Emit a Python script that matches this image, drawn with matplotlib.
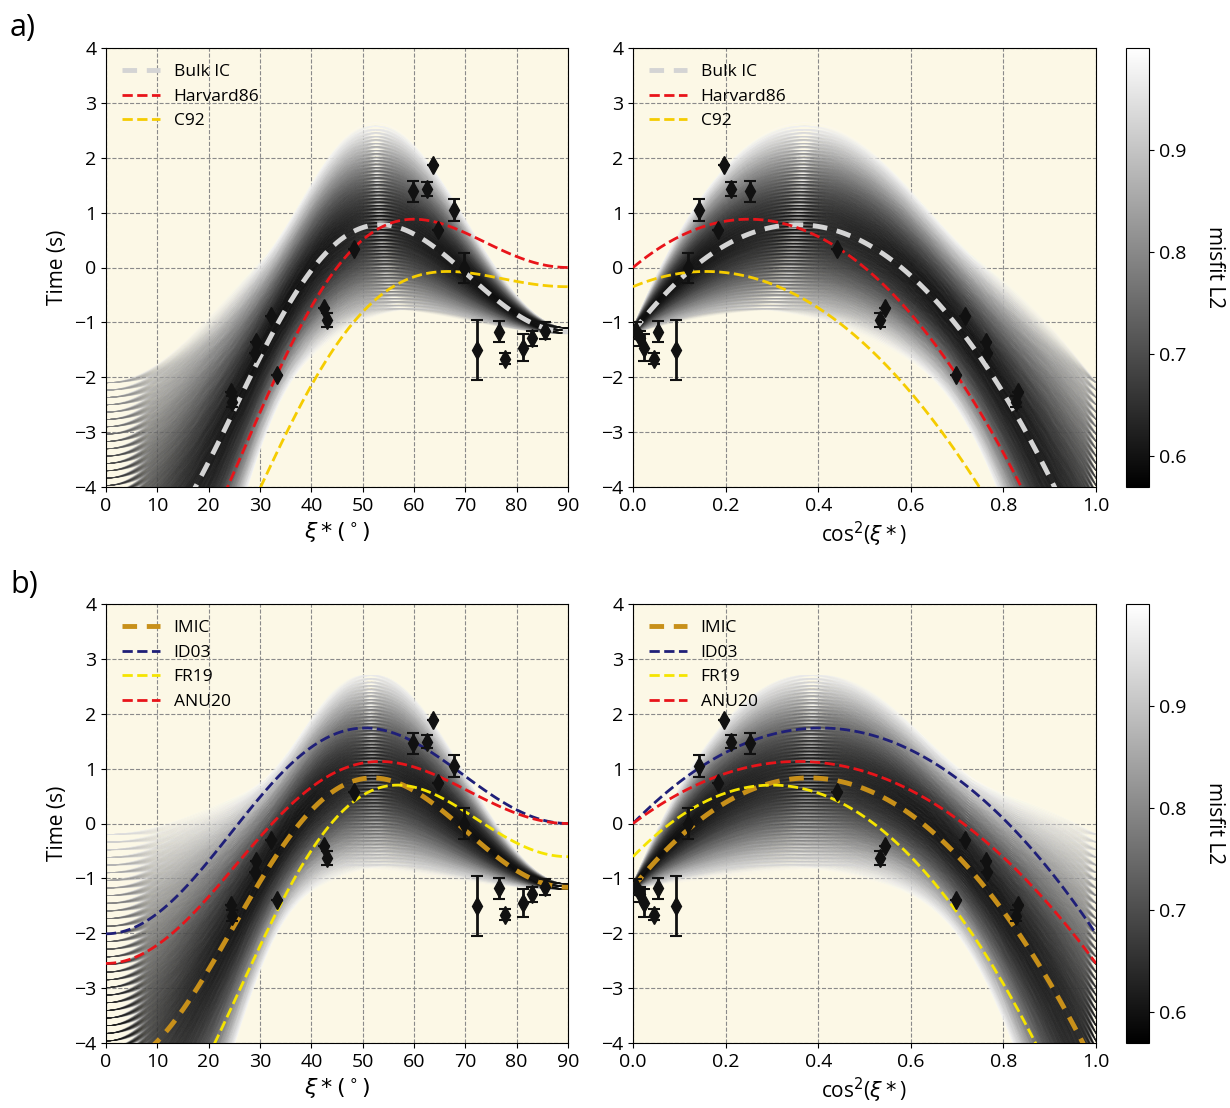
import numpy as np
import matplotlib
matplotlib.use("Agg")
import matplotlib.pyplot as plt
from matplotlib.collections import LineCollection
from matplotlib.colors import Normalize
from matplotlib.cm import ScalarMappable

plt.rcParams['font.family'] = ['Open Sans', 'DejaVu Sans']
plt.rcParams['mathtext.fontset'] = 'dejavusans'

xi_obs = [24.3, 24.6, 29.2, 29.05, 32.1, 33.3, 42.5, 43.1, 48.4, 59.8, 62.6,
          63.7, 64.7, 67.8, 69.8, 72.3, 76.6, 77.8, 81.3, 82.9, 85.5]
dt_top = [-2.27, -2.45, -1.35, -1.55, -0.88, -1.95, -0.73, -0.96, 0.34, 1.39, 1.43,
          1.86, 0.68, 1.04, -0.01, -1.50, -1.17, -1.66, -1.46, -1.29, -1.15]
dt_bot = [-1.49, -1.68, -0.68, -0.88, -0.30, -1.40, -0.41, -0.63, 0.58, 1.46, 1.49,
          1.89, 0.73, 1.05, 0.00, -1.50, -1.18, -1.66, -1.45, -1.29, -1.16]
dt_err = [0.0, 0.10, 0.0, 0.0, 0.0, 0.0, 0.0, 0.13, 0.0, 0.19, 0.12,
          0.0, 0.0, 0.20, 0.28, 0.55, 0.19, 0.10, 0.25, 0.14, 0.15]

# model coefficients: dt = c0 + c1*cos^2(xi) + c2*cos^4(xi)
bulk_ic = [-1.173, 11.005, -15.5]
harvard86 = [0.0, 7.04, -14.08]
c92 = [-0.35, 3.535, -11.25]
imic = [-1.163, 10.49, -13.8]
id03 = [0.0, 8.59, -10.6]
fr19 = [-0.605, 8.7, -14.5]
anu20 = [0.0, 6.34, -8.89]

# ensemble sweep: value at cos2=0, peak value, value at cos2=1
start_vals = np.linspace(-1.2, -1.1, 3)
peak_vals = np.linspace(-0.75, 2.7, 56)
end_vals_top = np.linspace(-14.0, -2.1, 90)
end_vals_bot = np.linspace(-14.0, -0.2, 100)
misfit_scale = 1.27      # rms residual (s) that gives misfit 1
misfit_min, misfit_max = 0.57, 1.0
order_mix = 0.3          # how loosely lines are sorted by misfit when drawn

bg = '#fcf8e6'
norm = Normalize(misfit_min, misfit_max)

xi_line = np.linspace(0, 90, 121)
cs_line = np.linspace(0, 1, 101)


def model(coef, x):
    return coef[0] + coef[1] * x + coef[2] * x ** 2


def ensemble(dt, end_vals):
    A, P, E = np.meshgrid(start_vals, peak_vals, end_vals, indexing='ij')
    A, P, E = A.ravel(), P.ravel(), E.ravel()
    h, D = P - A, E - A
    B = 2 * h + 2 * np.sqrt(h * (h - D))
    C = D - B
    xo = np.cos(np.radians(xi_obs)) ** 2
    d = np.array(dt)
    pred = A[:, None] + B[:, None] * xo + C[:, None] * xo ** 2
    mis = np.sqrt(((pred - d) ** 2).mean(1)) / misfit_scale
    keep = mis <= misfit_max
    A, B, C, mis = A[keep], B[keep], C[keep], mis[keep]
    # worst drawn first, but loosely (golden-ratio stride) so shades mix
    key = mis + order_mix * ((np.arange(len(mis)) * 0.6180339887) % 1.0)
    order = np.argsort(key)[::-1]
    return A[order], B[order], C[order], mis[order]


def draw(ax, dt, end_vals, curves, in_deg):
    A, B, C, mis = ensemble(dt, end_vals)
    if in_deg:
        xx = xi_line
        cc = np.cos(np.radians(xi_line)) ** 2
    else:
        xx = cs_line
        cc = cs_line
    yy = A[:, None] + B[:, None] * cc + C[:, None] * cc ** 2
    segs = np.stack([np.broadcast_to(xx, yy.shape), yy], axis=-1)
    lc = LineCollection(segs, cmap='gray', norm=norm, linewidths=0.45, alpha=0.12, zorder=1)
    lc.set_array(mis)
    ax.add_collection(lc)
    for coef, lab, col, lw in curves:
        if lab in ('Bulk IC', 'IMIC'):
            ax.plot(xx, model(coef, cc), '--', color=col, lw=lw, dashes=(3, 2), label=lab, zorder=3)
        else:
            ax.plot(xx, model(coef, cc), '--', color=col, lw=lw, label=lab, zorder=3)
    xd = np.array(xi_obs) if in_deg else np.cos(np.radians(xi_obs)) ** 2
    ax.errorbar(xd, dt, yerr=dt_err, fmt='d', color='#111111', ms=9, capsize=4,
                elinewidth=2, capthick=1.5, zorder=5)
    ax.set_facecolor(bg)
    ax.set_ylim(-4, 4)
    ax.set_yticks(range(-4, 5))
    ax.grid(True, ls='--', color='#8a8a8a', lw=0.8, zorder=0.5)
    ax.set_axisbelow(True)
    if in_deg:
        ax.set_xlim(0, 90)
        ax.set_xticks(range(0, 91, 10))
        ax.set_xlabel(r'$\xi*(^\circ)$', fontsize=16)
        ax.set_ylabel('Time (s)', fontsize=15)
    else:
        ax.set_xlim(0, 1)
        ax.set_xticks(np.arange(0, 1.01, 0.2))
        ax.set_xlabel(r'cos$^2$($\xi*$)', fontsize=15)
    ax.tick_params(labelsize=14)
    ax.legend(loc='upper left', frameon=False, fontsize=12.5, handlelength=2.2)


top_curves = [(bulk_ic, 'Bulk IC', '#d4d4d4', 3.5),
              (harvard86, 'Harvard86', '#e8141a', 2),
              (c92, 'C92', '#f5cc00', 2)]
bot_curves = [(imic, 'IMIC', '#c8901a', 3.5),
              (id03, 'ID03', '#1f1f78', 2),
              (fr19, 'FR19', '#f5e400', 2),
              (anu20, 'ANU20', '#e8141a', 2)]

fig = plt.figure(figsize=(12.3, 11.08), dpi=100)
W, H = 1230, 1108
rows = [(48, 487, dt_top, end_vals_top, top_curves),
        (604, 1043, dt_bot, end_vals_bot, bot_curves)]
for top, bot, dt, ev, curves in rows:
    ax1 = fig.add_axes([106 / W, 1 - bot / H, 462 / W, (bot - top) / H])
    ax2 = fig.add_axes([633 / W, 1 - bot / H, 463 / W, (bot - top) / H])
    draw(ax1, dt, ev, curves, True)
    draw(ax2, dt, ev, curves, False)
    cax = fig.add_axes([1126 / W, 1 - bot / H, 23 / W, (bot - top) / H])
    sm = ScalarMappable(norm=norm, cmap='gray')
    cb = fig.colorbar(sm, cax=cax, ticks=[0.6, 0.7, 0.8, 0.9])
    cb.ax.tick_params(labelsize=14)
    cb.set_label('misfit L2', rotation=270, labelpad=28, fontsize=15)

fig.text(10 / W, 1 - 28 / H, 'a)', fontsize=22, va='center')
fig.text(10 / W, 1 - 585 / H, 'b)', fontsize=22, va='center')

fig.savefig('out.png', dpi=100)
